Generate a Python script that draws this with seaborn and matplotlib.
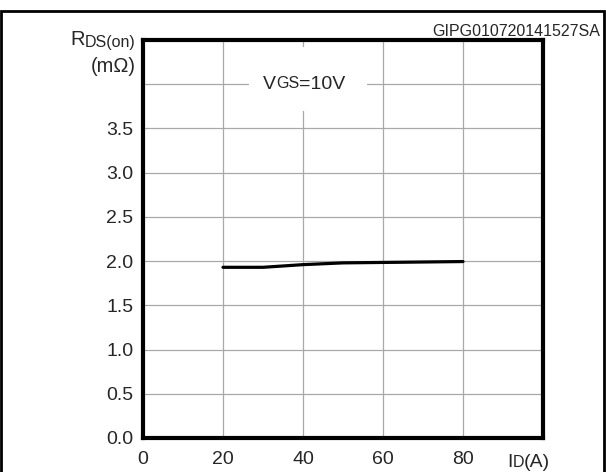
import pandas as pd
import seaborn as sns
import matplotlib.pyplot as plt
from matplotlib.patches import Rectangle

# drain current (A) vs on-resistance (mOhm)
drain_current = [20, 30, 40, 50, 60, 70, 80]
rds_on = [1.93, 1.93, 1.96, 1.98, 1.985, 1.99, 1.995]
x_ticks = [0, 20, 40, 60, 80, 100]
x_labels = ["0", "20", "40", "60", "80", ""]
y_ticks = [0.0, 0.5, 1.0, 1.5, 2.0, 2.5, 3.0, 3.5, 4.0, 4.5]
y_labels = ["0.0", "0.5", "1.0", "1.5", "2.0", "2.5", "3.0", "3.5", "", ""]

sns.set_style("white")
plt.rcParams["font.family"] = ["Liberation Sans", "DejaVu Sans"]

df = pd.DataFrame({"ID": drain_current, "RDS": rds_on})

fig = plt.figure(figsize=(6.06, 4.72), dpi=100)
ax = fig.add_axes([143 / 606, 1 - 438 / 472, 400 / 606, 398 / 472])

sns.lineplot(data=df, x="ID", y="RDS", ax=ax, color="black", linewidth=2.3)

ax.set_xlim(0, 100)
ax.set_ylim(0, 4.5)
ax.set_xticks(x_ticks)
ax.set_xticklabels(x_labels, fontsize=14)
ax.set_yticks(y_ticks)
ax.set_yticklabels(y_labels, fontsize=14)
ax.tick_params(length=0)
ax.tick_params(axis="y", pad=7)
ax.tick_params(axis="x", pad=9)
ax.grid(True, color="#a8a8a8", linewidth=0.9)
ax.set_xlabel("")
ax.set_ylabel("")
for s in ax.spines.values():
    s.set_linewidth(3)
    s.set_color("black")
    s.set_zorder(5)

# curve label on the 4.0 gridline, white box hides the grid behind it
ax.add_patch(Rectangle((26.5, 3.7), 29.5, 0.72, facecolor="white", edgecolor="none", zorder=4))
t1 = ax.text(30, 4.0, "V", fontsize=14, ha="left", va="center", zorder=6)
t2 = ax.annotate("GS", xy=(1, 0.08), xycoords=t1, fontsize=11.5, va="bottom", ha="left", zorder=6)
ax.annotate("=10V", xy=(1, 0), xycoords=t2, xytext=(0, -1), textcoords="offset points",
            fontsize=14, va="bottom", ha="left", zorder=6)

# y-axis unit label
r_small = fig.text(136 / 606, 1 - 47 / 472, "DS(on)", fontsize=11.5, ha="right", va="baseline")
fig.add_artist(plt.Annotation("R", xy=(0, 0.05), xycoords=r_small, fontsize=14.5,
                              ha="right", va="bottom"))
fig.text(136 / 606, 1 - 66 / 472, "(m\u03a9)", fontsize=14.5, ha="right", va="center")

# x-axis unit label
xi = fig.text(507 / 606, 1 - 467 / 472, "I", fontsize=14, ha="left", va="baseline")
xd = plt.Annotation("D", xy=(1, 0.08), xycoords=xi, fontsize=11.5, ha="left", va="bottom")
fig.add_artist(xd)
fig.add_artist(plt.Annotation("(A)", xy=(1, 0), xycoords=xd, xytext=(0, -1),
                              textcoords="offset points", fontsize=14, ha="left", va="bottom"))

fig.text(600 / 606, 1 - 36 / 472, "GIPG010720141527SA", fontsize=11.5, ha="right", va="baseline")

# outer frame
fig.add_artist(Rectangle((0.002, -0.05), 0.995, 1 - 10.5 / 472 + 0.05,
                         transform=fig.transFigure, fill=False,
                         edgecolor="black", linewidth=2))

fig.savefig("out.png", dpi=100)
